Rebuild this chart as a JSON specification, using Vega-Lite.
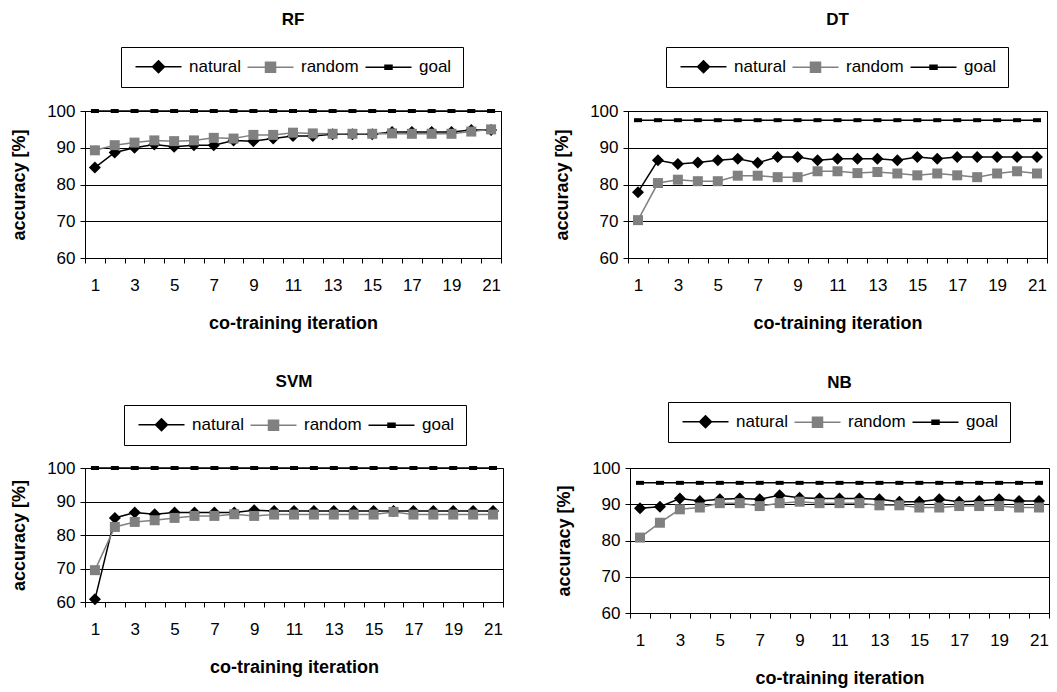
{
  "$schema": "https://vega.github.io/schema/vega-lite/v6.json",
  "padding": {"left": 10, "top": 10, "right": 0, "bottom": 0},
  "background": "white",
  "config": {
    "font": "Liberation Sans",
    "view": {"stroke": "black", "strokeWidth": 1},
    "axis": {"domainColor": "black", "tickColor": "black", "labelColor": "black", "titleColor": "black", "labelFontSize": 17, "titleFontSize": 18, "titleFontWeight": "bold", "tickSize": 5, "labelFont": "Liberation Sans", "titleFont": "Liberation Sans"},
    "axisX": {"grid": false, "labelAngle": 0, "tickBand": "extent", "labelPadding": 14, "titlePadding": 21},
    "axisY": {"grid": true, "gridColor": "black", "gridWidth": 1, "gridOpacity": 1, "labelPadding": 5, "titlePadding": 18},
    "legend": {"direction": "horizontal", "strokeColor": "black", "strokeWidth": 1, "fillColor": "white", "padding": 11, "symbolSize": 100, "symbolStrokeWidth": 1.5, "symbolOpacity": 1, "labelFontSize": 17, "labelColor": "black", "labelFont": "Liberation Sans", "labelOffset": 40, "columnPadding": 3, "title": null},
    "title": {"fontSize": 17, "fontWeight": "bold", "color": "black", "frame": "group", "anchor": "middle", "font": "Liberation Sans"}
  },
  "datasets": {
    "acc": [
      {"panel":"RF","series":"natural","iteration":1,"accuracy":84.6},{"panel":"RF","series":"natural","iteration":2,"accuracy":88.7},{"panel":"RF","series":"natural","iteration":3,"accuracy":90.0},{"panel":"RF","series":"natural","iteration":4,"accuracy":90.9},{"panel":"RF","series":"natural","iteration":5,"accuracy":90.3},{"panel":"RF","series":"natural","iteration":6,"accuracy":90.7},{"panel":"RF","series":"natural","iteration":7,"accuracy":90.7},{"panel":"RF","series":"natural","iteration":8,"accuracy":92.0},{"panel":"RF","series":"natural","iteration":9,"accuracy":91.8},{"panel":"RF","series":"natural","iteration":10,"accuracy":92.5},{"panel":"RF","series":"natural","iteration":11,"accuracy":93.2},{"panel":"RF","series":"natural","iteration":12,"accuracy":93.2},{"panel":"RF","series":"natural","iteration":13,"accuracy":93.7},{"panel":"RF","series":"natural","iteration":14,"accuracy":93.7},{"panel":"RF","series":"natural","iteration":15,"accuracy":93.7},{"panel":"RF","series":"natural","iteration":16,"accuracy":94.3},{"panel":"RF","series":"natural","iteration":17,"accuracy":94.3},{"panel":"RF","series":"natural","iteration":18,"accuracy":94.3},{"panel":"RF","series":"natural","iteration":19,"accuracy":94.3},{"panel":"RF","series":"natural","iteration":20,"accuracy":94.8},{"panel":"RF","series":"natural","iteration":21,"accuracy":94.8},
      {"panel":"RF","series":"random","iteration":1,"accuracy":89.3},{"panel":"RF","series":"random","iteration":2,"accuracy":90.7},{"panel":"RF","series":"random","iteration":3,"accuracy":91.4},{"panel":"RF","series":"random","iteration":4,"accuracy":92.0},{"panel":"RF","series":"random","iteration":5,"accuracy":91.8},{"panel":"RF","series":"random","iteration":6,"accuracy":92.0},{"panel":"RF","series":"random","iteration":7,"accuracy":92.7},{"panel":"RF","series":"random","iteration":8,"accuracy":92.5},{"panel":"RF","series":"random","iteration":9,"accuracy":93.5},{"panel":"RF","series":"random","iteration":10,"accuracy":93.5},{"panel":"RF","series":"random","iteration":11,"accuracy":94.1},{"panel":"RF","series":"random","iteration":12,"accuracy":93.9},{"panel":"RF","series":"random","iteration":13,"accuracy":93.8},{"panel":"RF","series":"random","iteration":14,"accuracy":93.8},{"panel":"RF","series":"random","iteration":15,"accuracy":93.8},{"panel":"RF","series":"random","iteration":16,"accuracy":93.9},{"panel":"RF","series":"random","iteration":17,"accuracy":93.8},{"panel":"RF","series":"random","iteration":18,"accuracy":93.8},{"panel":"RF","series":"random","iteration":19,"accuracy":93.8},{"panel":"RF","series":"random","iteration":20,"accuracy":94.4},{"panel":"RF","series":"random","iteration":21,"accuracy":95.0},
      {"panel":"RF","series":"goal","iteration":1,"accuracy":100},{"panel":"RF","series":"goal","iteration":2,"accuracy":100},{"panel":"RF","series":"goal","iteration":3,"accuracy":100},{"panel":"RF","series":"goal","iteration":4,"accuracy":100},{"panel":"RF","series":"goal","iteration":5,"accuracy":100},{"panel":"RF","series":"goal","iteration":6,"accuracy":100},{"panel":"RF","series":"goal","iteration":7,"accuracy":100},{"panel":"RF","series":"goal","iteration":8,"accuracy":100},{"panel":"RF","series":"goal","iteration":9,"accuracy":100},{"panel":"RF","series":"goal","iteration":10,"accuracy":100},{"panel":"RF","series":"goal","iteration":11,"accuracy":100},{"panel":"RF","series":"goal","iteration":12,"accuracy":100},{"panel":"RF","series":"goal","iteration":13,"accuracy":100},{"panel":"RF","series":"goal","iteration":14,"accuracy":100},{"panel":"RF","series":"goal","iteration":15,"accuracy":100},{"panel":"RF","series":"goal","iteration":16,"accuracy":100},{"panel":"RF","series":"goal","iteration":17,"accuracy":100},{"panel":"RF","series":"goal","iteration":18,"accuracy":100},{"panel":"RF","series":"goal","iteration":19,"accuracy":100},{"panel":"RF","series":"goal","iteration":20,"accuracy":100},{"panel":"RF","series":"goal","iteration":21,"accuracy":100},
      {"panel":"DT","series":"natural","iteration":1,"accuracy":77.9},{"panel":"DT","series":"natural","iteration":2,"accuracy":86.6},{"panel":"DT","series":"natural","iteration":3,"accuracy":85.6},{"panel":"DT","series":"natural","iteration":4,"accuracy":86.0},{"panel":"DT","series":"natural","iteration":5,"accuracy":86.6},{"panel":"DT","series":"natural","iteration":6,"accuracy":87.0},{"panel":"DT","series":"natural","iteration":7,"accuracy":85.9},{"panel":"DT","series":"natural","iteration":8,"accuracy":87.5},{"panel":"DT","series":"natural","iteration":9,"accuracy":87.5},{"panel":"DT","series":"natural","iteration":10,"accuracy":86.6},{"panel":"DT","series":"natural","iteration":11,"accuracy":87.0},{"panel":"DT","series":"natural","iteration":12,"accuracy":87.0},{"panel":"DT","series":"natural","iteration":13,"accuracy":87.0},{"panel":"DT","series":"natural","iteration":14,"accuracy":86.6},{"panel":"DT","series":"natural","iteration":15,"accuracy":87.5},{"panel":"DT","series":"natural","iteration":16,"accuracy":87.0},{"panel":"DT","series":"natural","iteration":17,"accuracy":87.5},{"panel":"DT","series":"natural","iteration":18,"accuracy":87.5},{"panel":"DT","series":"natural","iteration":19,"accuracy":87.5},{"panel":"DT","series":"natural","iteration":20,"accuracy":87.5},{"panel":"DT","series":"natural","iteration":21,"accuracy":87.5},
      {"panel":"DT","series":"random","iteration":1,"accuracy":70.3},{"panel":"DT","series":"random","iteration":2,"accuracy":80.4},{"panel":"DT","series":"random","iteration":3,"accuracy":81.3},{"panel":"DT","series":"random","iteration":4,"accuracy":80.9},{"panel":"DT","series":"random","iteration":5,"accuracy":80.9},{"panel":"DT","series":"random","iteration":6,"accuracy":82.4},{"panel":"DT","series":"random","iteration":7,"accuracy":82.4},{"panel":"DT","series":"random","iteration":8,"accuracy":82.0},{"panel":"DT","series":"random","iteration":9,"accuracy":82.0},{"panel":"DT","series":"random","iteration":10,"accuracy":83.6},{"panel":"DT","series":"random","iteration":11,"accuracy":83.6},{"panel":"DT","series":"random","iteration":12,"accuracy":83.1},{"panel":"DT","series":"random","iteration":13,"accuracy":83.4},{"panel":"DT","series":"random","iteration":14,"accuracy":83.0},{"panel":"DT","series":"random","iteration":15,"accuracy":82.5},{"panel":"DT","series":"random","iteration":16,"accuracy":83.0},{"panel":"DT","series":"random","iteration":17,"accuracy":82.5},{"panel":"DT","series":"random","iteration":18,"accuracy":82.0},{"panel":"DT","series":"random","iteration":19,"accuracy":83.0},{"panel":"DT","series":"random","iteration":20,"accuracy":83.6},{"panel":"DT","series":"random","iteration":21,"accuracy":83.0},
      {"panel":"DT","series":"goal","iteration":1,"accuracy":97.5},{"panel":"DT","series":"goal","iteration":2,"accuracy":97.5},{"panel":"DT","series":"goal","iteration":3,"accuracy":97.5},{"panel":"DT","series":"goal","iteration":4,"accuracy":97.5},{"panel":"DT","series":"goal","iteration":5,"accuracy":97.5},{"panel":"DT","series":"goal","iteration":6,"accuracy":97.5},{"panel":"DT","series":"goal","iteration":7,"accuracy":97.5},{"panel":"DT","series":"goal","iteration":8,"accuracy":97.5},{"panel":"DT","series":"goal","iteration":9,"accuracy":97.5},{"panel":"DT","series":"goal","iteration":10,"accuracy":97.5},{"panel":"DT","series":"goal","iteration":11,"accuracy":97.5},{"panel":"DT","series":"goal","iteration":12,"accuracy":97.5},{"panel":"DT","series":"goal","iteration":13,"accuracy":97.5},{"panel":"DT","series":"goal","iteration":14,"accuracy":97.5},{"panel":"DT","series":"goal","iteration":15,"accuracy":97.5},{"panel":"DT","series":"goal","iteration":16,"accuracy":97.5},{"panel":"DT","series":"goal","iteration":17,"accuracy":97.5},{"panel":"DT","series":"goal","iteration":18,"accuracy":97.5},{"panel":"DT","series":"goal","iteration":19,"accuracy":97.5},{"panel":"DT","series":"goal","iteration":20,"accuracy":97.5},{"panel":"DT","series":"goal","iteration":21,"accuracy":97.5},
      {"panel":"SVM","series":"natural","iteration":1,"accuracy":60.8},{"panel":"SVM","series":"natural","iteration":2,"accuracy":85.1},{"panel":"SVM","series":"natural","iteration":3,"accuracy":86.7},{"panel":"SVM","series":"natural","iteration":4,"accuracy":86.2},{"panel":"SVM","series":"natural","iteration":5,"accuracy":86.7},{"panel":"SVM","series":"natural","iteration":6,"accuracy":86.7},{"panel":"SVM","series":"natural","iteration":7,"accuracy":86.7},{"panel":"SVM","series":"natural","iteration":8,"accuracy":86.7},{"panel":"SVM","series":"natural","iteration":9,"accuracy":87.4},{"panel":"SVM","series":"natural","iteration":10,"accuracy":87.2},{"panel":"SVM","series":"natural","iteration":11,"accuracy":87.2},{"panel":"SVM","series":"natural","iteration":12,"accuracy":87.2},{"panel":"SVM","series":"natural","iteration":13,"accuracy":87.2},{"panel":"SVM","series":"natural","iteration":14,"accuracy":87.2},{"panel":"SVM","series":"natural","iteration":15,"accuracy":87.2},{"panel":"SVM","series":"natural","iteration":16,"accuracy":87.2},{"panel":"SVM","series":"natural","iteration":17,"accuracy":87.2},{"panel":"SVM","series":"natural","iteration":18,"accuracy":87.2},{"panel":"SVM","series":"natural","iteration":19,"accuracy":87.2},{"panel":"SVM","series":"natural","iteration":20,"accuracy":87.2},{"panel":"SVM","series":"natural","iteration":21,"accuracy":87.2},
      {"panel":"SVM","series":"random","iteration":1,"accuracy":69.5},{"panel":"SVM","series":"random","iteration":2,"accuracy":82.4},{"panel":"SVM","series":"random","iteration":3,"accuracy":83.9},{"panel":"SVM","series":"random","iteration":4,"accuracy":84.4},{"panel":"SVM","series":"random","iteration":5,"accuracy":85.1},{"panel":"SVM","series":"random","iteration":6,"accuracy":85.7},{"panel":"SVM","series":"random","iteration":7,"accuracy":85.7},{"panel":"SVM","series":"random","iteration":8,"accuracy":86.2},{"panel":"SVM","series":"random","iteration":9,"accuracy":85.7},{"panel":"SVM","series":"random","iteration":10,"accuracy":86.1},{"panel":"SVM","series":"random","iteration":11,"accuracy":86.1},{"panel":"SVM","series":"random","iteration":12,"accuracy":86.1},{"panel":"SVM","series":"random","iteration":13,"accuracy":86.1},{"panel":"SVM","series":"random","iteration":14,"accuracy":86.1},{"panel":"SVM","series":"random","iteration":15,"accuracy":86.1},{"panel":"SVM","series":"random","iteration":16,"accuracy":86.9},{"panel":"SVM","series":"random","iteration":17,"accuracy":86.1},{"panel":"SVM","series":"random","iteration":18,"accuracy":86.1},{"panel":"SVM","series":"random","iteration":19,"accuracy":86.1},{"panel":"SVM","series":"random","iteration":20,"accuracy":86.1},{"panel":"SVM","series":"random","iteration":21,"accuracy":86.1},
      {"panel":"SVM","series":"goal","iteration":1,"accuracy":100},{"panel":"SVM","series":"goal","iteration":2,"accuracy":100},{"panel":"SVM","series":"goal","iteration":3,"accuracy":100},{"panel":"SVM","series":"goal","iteration":4,"accuracy":100},{"panel":"SVM","series":"goal","iteration":5,"accuracy":100},{"panel":"SVM","series":"goal","iteration":6,"accuracy":100},{"panel":"SVM","series":"goal","iteration":7,"accuracy":100},{"panel":"SVM","series":"goal","iteration":8,"accuracy":100},{"panel":"SVM","series":"goal","iteration":9,"accuracy":100},{"panel":"SVM","series":"goal","iteration":10,"accuracy":100},{"panel":"SVM","series":"goal","iteration":11,"accuracy":100},{"panel":"SVM","series":"goal","iteration":12,"accuracy":100},{"panel":"SVM","series":"goal","iteration":13,"accuracy":100},{"panel":"SVM","series":"goal","iteration":14,"accuracy":100},{"panel":"SVM","series":"goal","iteration":15,"accuracy":100},{"panel":"SVM","series":"goal","iteration":16,"accuracy":100},{"panel":"SVM","series":"goal","iteration":17,"accuracy":100},{"panel":"SVM","series":"goal","iteration":18,"accuracy":100},{"panel":"SVM","series":"goal","iteration":19,"accuracy":100},{"panel":"SVM","series":"goal","iteration":20,"accuracy":100},{"panel":"SVM","series":"goal","iteration":21,"accuracy":100},
      {"panel":"NB","series":"natural","iteration":1,"accuracy":88.9},{"panel":"NB","series":"natural","iteration":2,"accuracy":89.3},{"panel":"NB","series":"natural","iteration":3,"accuracy":91.6},{"panel":"NB","series":"natural","iteration":4,"accuracy":90.9},{"panel":"NB","series":"natural","iteration":5,"accuracy":91.4},{"panel":"NB","series":"natural","iteration":6,"accuracy":91.6},{"panel":"NB","series":"natural","iteration":7,"accuracy":91.4},{"panel":"NB","series":"natural","iteration":8,"accuracy":92.5},{"panel":"NB","series":"natural","iteration":9,"accuracy":91.8},{"panel":"NB","series":"natural","iteration":10,"accuracy":91.6},{"panel":"NB","series":"natural","iteration":11,"accuracy":91.6},{"panel":"NB","series":"natural","iteration":12,"accuracy":91.6},{"panel":"NB","series":"natural","iteration":13,"accuracy":91.4},{"panel":"NB","series":"natural","iteration":14,"accuracy":90.7},{"panel":"NB","series":"natural","iteration":15,"accuracy":90.7},{"panel":"NB","series":"natural","iteration":16,"accuracy":91.4},{"panel":"NB","series":"natural","iteration":17,"accuracy":90.7},{"panel":"NB","series":"natural","iteration":18,"accuracy":90.9},{"panel":"NB","series":"natural","iteration":19,"accuracy":91.4},{"panel":"NB","series":"natural","iteration":20,"accuracy":90.9},{"panel":"NB","series":"natural","iteration":21,"accuracy":90.9},
      {"panel":"NB","series":"random","iteration":1,"accuracy":80.8},{"panel":"NB","series":"random","iteration":2,"accuracy":84.9},{"panel":"NB","series":"random","iteration":3,"accuracy":88.6},{"panel":"NB","series":"random","iteration":4,"accuracy":89.1},{"panel":"NB","series":"random","iteration":5,"accuracy":90.3},{"panel":"NB","series":"random","iteration":6,"accuracy":90.3},{"panel":"NB","series":"random","iteration":7,"accuracy":89.5},{"panel":"NB","series":"random","iteration":8,"accuracy":90.3},{"panel":"NB","series":"random","iteration":9,"accuracy":90.7},{"panel":"NB","series":"random","iteration":10,"accuracy":90.3},{"panel":"NB","series":"random","iteration":11,"accuracy":90.3},{"panel":"NB","series":"random","iteration":12,"accuracy":90.3},{"panel":"NB","series":"random","iteration":13,"accuracy":89.7},{"panel":"NB","series":"random","iteration":14,"accuracy":89.7},{"panel":"NB","series":"random","iteration":15,"accuracy":89.1},{"panel":"NB","series":"random","iteration":16,"accuracy":89.1},{"panel":"NB","series":"random","iteration":17,"accuracy":89.5},{"panel":"NB","series":"random","iteration":18,"accuracy":89.5},{"panel":"NB","series":"random","iteration":19,"accuracy":89.5},{"panel":"NB","series":"random","iteration":20,"accuracy":89.1},{"panel":"NB","series":"random","iteration":21,"accuracy":89.1},
      {"panel":"NB","series":"goal","iteration":1,"accuracy":95.9},{"panel":"NB","series":"goal","iteration":2,"accuracy":95.9},{"panel":"NB","series":"goal","iteration":3,"accuracy":95.9},{"panel":"NB","series":"goal","iteration":4,"accuracy":95.9},{"panel":"NB","series":"goal","iteration":5,"accuracy":95.9},{"panel":"NB","series":"goal","iteration":6,"accuracy":95.9},{"panel":"NB","series":"goal","iteration":7,"accuracy":95.9},{"panel":"NB","series":"goal","iteration":8,"accuracy":95.9},{"panel":"NB","series":"goal","iteration":9,"accuracy":95.9},{"panel":"NB","series":"goal","iteration":10,"accuracy":95.9},{"panel":"NB","series":"goal","iteration":11,"accuracy":95.9},{"panel":"NB","series":"goal","iteration":12,"accuracy":95.9},{"panel":"NB","series":"goal","iteration":13,"accuracy":95.9},{"panel":"NB","series":"goal","iteration":14,"accuracy":95.9},{"panel":"NB","series":"goal","iteration":15,"accuracy":95.9},{"panel":"NB","series":"goal","iteration":16,"accuracy":95.9},{"panel":"NB","series":"goal","iteration":17,"accuracy":95.9},{"panel":"NB","series":"goal","iteration":18,"accuracy":95.9},{"panel":"NB","series":"goal","iteration":19,"accuracy":95.9},{"panel":"NB","series":"goal","iteration":20,"accuracy":95.9},{"panel":"NB","series":"goal","iteration":21,"accuracy":95.9}
    ]
  },
  "data": {"name": "acc"},
  "resolve": {"scale": {"color": "independent", "x": "independent", "y": "independent"}, "legend": {"color": "independent"}},
  "spacing": 39,
  "vconcat": [
    {
      "spacing": 51,
      "resolve": {"scale": {"color": "independent", "x": "independent", "y": "independent"}, "legend": {"color": "independent"}},
      "hconcat": [
        {
          "width": 416, "height": 147,
          "title": {"text": "RF", "offset": 18},
          "transform": [{"filter": "datum.panel === 'RF'"}],
          "encoding": {
            "x": {"field": "iteration", "type": "ordinal", "title": "co-training iteration", "scale": {"type": "band", "paddingInner": 0, "paddingOuter": 0}, "axis": {"labelExpr": "datum.value % 2 === 1 ? datum.label : ''"}},
            "y": {"field": "accuracy", "type": "quantitative", "title": "accuracy [%]", "scale": {"domain": [60, 100], "nice": false, "zero": false}, "axis": {"values": [60, 70, 80, 90, 100]}},
            "color": {"field": "series", "type": "nominal", "sort": ["natural", "random", "goal"], "scale": {"domain": ["natural", "random", "goal"], "range": ["#000000", "#808080", "#000000"]},
              "legend": {"orient": "none", "legendX": 36, "legendY": -64,
                "symbolType": {"expr": "datum.value === 'natural' ? 'M-1,0H8.2M2.4,0L3.6,-1.2L4.8,0L3.6,1.2Z' : datum.value === 'random' ? 'M-1,0H8.2M2.6,-1H4.6V1H2.6Z' : 'M-1,0H8.2M2.9,-0.4H4.3V0.4H2.9Z'"}}}
          },
          "layer": [
            {"mark": {"type": "line", "strokeWidth": 1.5}},
            {"transform": [{"filter": "datum.series === 'natural'"}], "mark": {"type": "point", "filled": true, "opacity": 1, "size": 100, "shape": "M-1.2,0L0,-1.2L1.2,0L0,1.2Z"}},
            {"transform": [{"filter": "datum.series === 'random'"}], "mark": {"type": "point", "filled": true, "opacity": 1, "size": 100, "shape": "square"}},
            {"transform": [{"filter": "datum.series === 'goal'"}], "mark": {"type": "point", "filled": true, "opacity": 1, "size": 100, "shape": "M-0.8,-0.4H0.8V0.4H-0.8Z"}}
          ]
        },
        {
          "width": 419, "height": 147,
          "title": {"text": "DT", "offset": 18},
          "transform": [{"filter": "datum.panel === 'DT'"}],
          "encoding": {
            "x": {"field": "iteration", "type": "ordinal", "title": "co-training iteration", "scale": {"type": "band", "paddingInner": 0, "paddingOuter": 0}, "axis": {"labelExpr": "datum.value % 2 === 1 ? datum.label : ''"}},
            "y": {"field": "accuracy", "type": "quantitative", "title": "accuracy [%]", "scale": {"domain": [60, 100], "nice": false, "zero": false}, "axis": {"values": [60, 70, 80, 90, 100]}},
            "color": {"field": "series", "type": "nominal", "sort": ["natural", "random", "goal"], "scale": {"domain": ["natural", "random", "goal"], "range": ["#000000", "#808080", "#000000"]},
              "legend": {"orient": "none", "legendX": 38, "legendY": -64,
                "symbolType": {"expr": "datum.value === 'natural' ? 'M-1,0H8.2M2.4,0L3.6,-1.2L4.8,0L3.6,1.2Z' : datum.value === 'random' ? 'M-1,0H8.2M2.6,-1H4.6V1H2.6Z' : 'M-1,0H8.2M2.9,-0.4H4.3V0.4H2.9Z'"}}}
          },
          "layer": [
            {"mark": {"type": "line", "strokeWidth": 1.5}},
            {"transform": [{"filter": "datum.series === 'natural'"}], "mark": {"type": "point", "filled": true, "opacity": 1, "size": 100, "shape": "M-1.2,0L0,-1.2L1.2,0L0,1.2Z"}},
            {"transform": [{"filter": "datum.series === 'random'"}], "mark": {"type": "point", "filled": true, "opacity": 1, "size": 100, "shape": "square"}},
            {"transform": [{"filter": "datum.series === 'goal'"}], "mark": {"type": "point", "filled": true, "opacity": 1, "size": 100, "shape": "M-0.8,-0.4H0.8V0.4H-0.8Z"}}
          ]
        }
      ]
    },
    {
      "spacing": 51,
      "resolve": {"scale": {"color": "independent", "x": "independent", "y": "independent"}, "legend": {"color": "independent"}},
      "hconcat": [
        {
          "width": 418, "height": 134,
          "title": {"text": "SVM", "offset": 14},
          "transform": [{"filter": "datum.panel === 'SVM'"}],
          "encoding": {
            "x": {"field": "iteration", "type": "ordinal", "title": "co-training iteration", "scale": {"type": "band", "paddingInner": 0, "paddingOuter": 0}, "axis": {"labelExpr": "datum.value % 2 === 1 ? datum.label : ''"}},
            "y": {"field": "accuracy", "type": "quantitative", "title": "accuracy [%]", "scale": {"domain": [60, 100], "nice": false, "zero": false}, "axis": {"values": [60, 70, 80, 90, 100]}},
            "color": {"field": "series", "type": "nominal", "sort": ["natural", "random", "goal"], "scale": {"domain": ["natural", "random", "goal"], "range": ["#000000", "#808080", "#000000"]},
              "legend": {"orient": "none", "legendX": 39, "legendY": -63,
                "symbolType": {"expr": "datum.value === 'natural' ? 'M-1,0H8.2M2.4,0L3.6,-1.2L4.8,0L3.6,1.2Z' : datum.value === 'random' ? 'M-1,0H8.2M2.6,-1H4.6V1H2.6Z' : 'M-1,0H8.2M2.9,-0.4H4.3V0.4H2.9Z'"}}}
          },
          "layer": [
            {"mark": {"type": "line", "strokeWidth": 1.5}},
            {"transform": [{"filter": "datum.series === 'natural'"}], "mark": {"type": "point", "filled": true, "opacity": 1, "size": 100, "shape": "M-1.2,0L0,-1.2L1.2,0L0,1.2Z"}},
            {"transform": [{"filter": "datum.series === 'random'"}], "mark": {"type": "point", "filled": true, "opacity": 1, "size": 100, "shape": "square"}},
            {"transform": [{"filter": "datum.series === 'goal'"}], "mark": {"type": "point", "filled": true, "opacity": 1, "size": 100, "shape": "M-0.8,-0.4H0.8V0.4H-0.8Z"}}
          ]
        },
        {
          "width": 419, "height": 145,
          "title": {"text": "NB", "offset": 10},
          "transform": [{"filter": "datum.panel === 'NB'"}],
          "encoding": {
            "x": {"field": "iteration", "type": "ordinal", "title": "co-training iteration", "scale": {"type": "band", "paddingInner": 0, "paddingOuter": 0}, "axis": {"labelExpr": "datum.value % 2 === 1 ? datum.label : ''"}},
            "y": {"field": "accuracy", "type": "quantitative", "title": "accuracy [%]", "scale": {"domain": [60, 100], "nice": false, "zero": false}, "axis": {"values": [60, 70, 80, 90, 100]}},
            "color": {"field": "series", "type": "nominal", "sort": ["natural", "random", "goal"], "scale": {"domain": ["natural", "random", "goal"], "range": ["#000000", "#808080", "#000000"]},
              "legend": {"orient": "none", "legendX": 38, "legendY": -66,
                "symbolType": {"expr": "datum.value === 'natural' ? 'M-1,0H8.2M2.4,0L3.6,-1.2L4.8,0L3.6,1.2Z' : datum.value === 'random' ? 'M-1,0H8.2M2.6,-1H4.6V1H2.6Z' : 'M-1,0H8.2M2.9,-0.4H4.3V0.4H2.9Z'"}}}
          },
          "layer": [
            {"mark": {"type": "line", "strokeWidth": 1.5}},
            {"transform": [{"filter": "datum.series === 'natural'"}], "mark": {"type": "point", "filled": true, "opacity": 1, "size": 100, "shape": "M-1.2,0L0,-1.2L1.2,0L0,1.2Z"}},
            {"transform": [{"filter": "datum.series === 'random'"}], "mark": {"type": "point", "filled": true, "opacity": 1, "size": 100, "shape": "square"}},
            {"transform": [{"filter": "datum.series === 'goal'"}], "mark": {"type": "point", "filled": true, "opacity": 1, "size": 100, "shape": "M-0.8,-0.4H0.8V0.4H-0.8Z"}}
          ]
        }
      ]
    }
  ]
}
